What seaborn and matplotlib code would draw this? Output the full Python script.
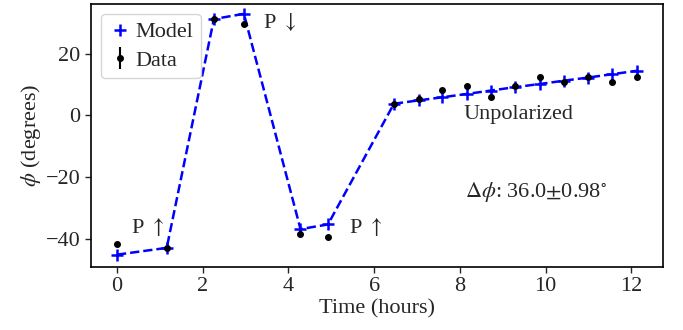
import matplotlib
matplotlib.use("Agg")
import matplotlib.pyplot as plt
import seaborn as sns

# time (hours) of each measurement
horas = [0.0, 1.16, 2.26, 2.96, 4.28, 4.92, 6.46, 7.04, 7.59, 8.17,
         8.73, 9.29, 9.86, 10.43, 10.99, 11.55, 12.13]
# measured phase (degrees)
fase_datos = [-41.7, -43.2, 31.3, 29.8, -38.4, -39.6, 3.8, 5.5, 8.3, 9.4,
              6.0, 9.7, 12.6, 10.7, 12.6, 11.0, 12.6]
error_datos = [0.5, 0.5, 0.5, 0.5, 0.5, 0.5, 0.5, 0.5, 0.5, 0.5,
               0.5, 0.5, 0.5, 0.5, 0.5, 0.5, 0.5]
# model phase (degrees)
fase_modelo = [-45.2, -43.0, 31.3, 33.0, -36.9, -35.4, 3.8, 4.9, 5.9, 7.0,
               8.1, 9.2, 10.2, 11.3, 12.3, 13.4, 14.5]

sns.set_style("ticks")
plt.rcParams["font.family"] = ["Liberation Serif", "DejaVu Serif"]
plt.rcParams["mathtext.fontset"] = "stix"
plt.rcParams["font.size"] = 16

fig = plt.figure(figsize=(6.83, 3.3), dpi=100)
ax = fig.add_axes([0.133, 0.191, 0.838, 0.797])

sns.lineplot(x=horas, y=fase_modelo, ax=ax, color="blue", linestyle="--",
             linewidth=1.8, legend=False, sort=False)
ax.plot(horas, fase_modelo, "+", color="blue", markersize=8, mew=1.8,
        label="Model", linestyle="none")
ax.errorbar(horas, fase_datos, yerr=error_datos, fmt="o", color="black",
            markersize=4, elinewidth=1.5, capsize=0, label="Data", zorder=3)

ax.text(0.33, -36.3, r"P $\uparrow$", fontsize=16, va="center")
ax.text(3.4, 30.5, r"P $\downarrow$", fontsize=16, va="center")
ax.text(5.41, -36.3, r"P $\uparrow$", fontsize=16, va="center")
ax.text(8.09, 0.3, "Unpolarized", fontsize=16, va="center")
ax.text(8.11, -24.8, r"$\Delta\phi$: 36.0$\pm$0.98$^{\circ}$", fontsize=16,
        va="center")

ax.set_xlim(-0.61, 12.74)
ax.set_ylim(-49.2, 36.2)
ax.set_xticks([0, 2, 4, 6, 8, 10, 12])
ax.set_yticks([-40, -20, 0, 20])
ax.set_xlabel("Time (hours)", fontsize=16, labelpad=2)
ax.set_ylabel(r"$\phi$ (degrees)", fontsize=16, labelpad=2)
ax.tick_params(labelsize=16, length=4, width=1)
for s in ax.spines.values():
    s.set_linewidth(1.2)
    s.set_color("black")

ax.legend(loc="upper left", fontsize=16, handletextpad=0.2,
          handlelength=1.0, borderpad=0.35, labelspacing=0.35,
          borderaxespad=0.45)

fig.savefig("out.png", dpi=100)
